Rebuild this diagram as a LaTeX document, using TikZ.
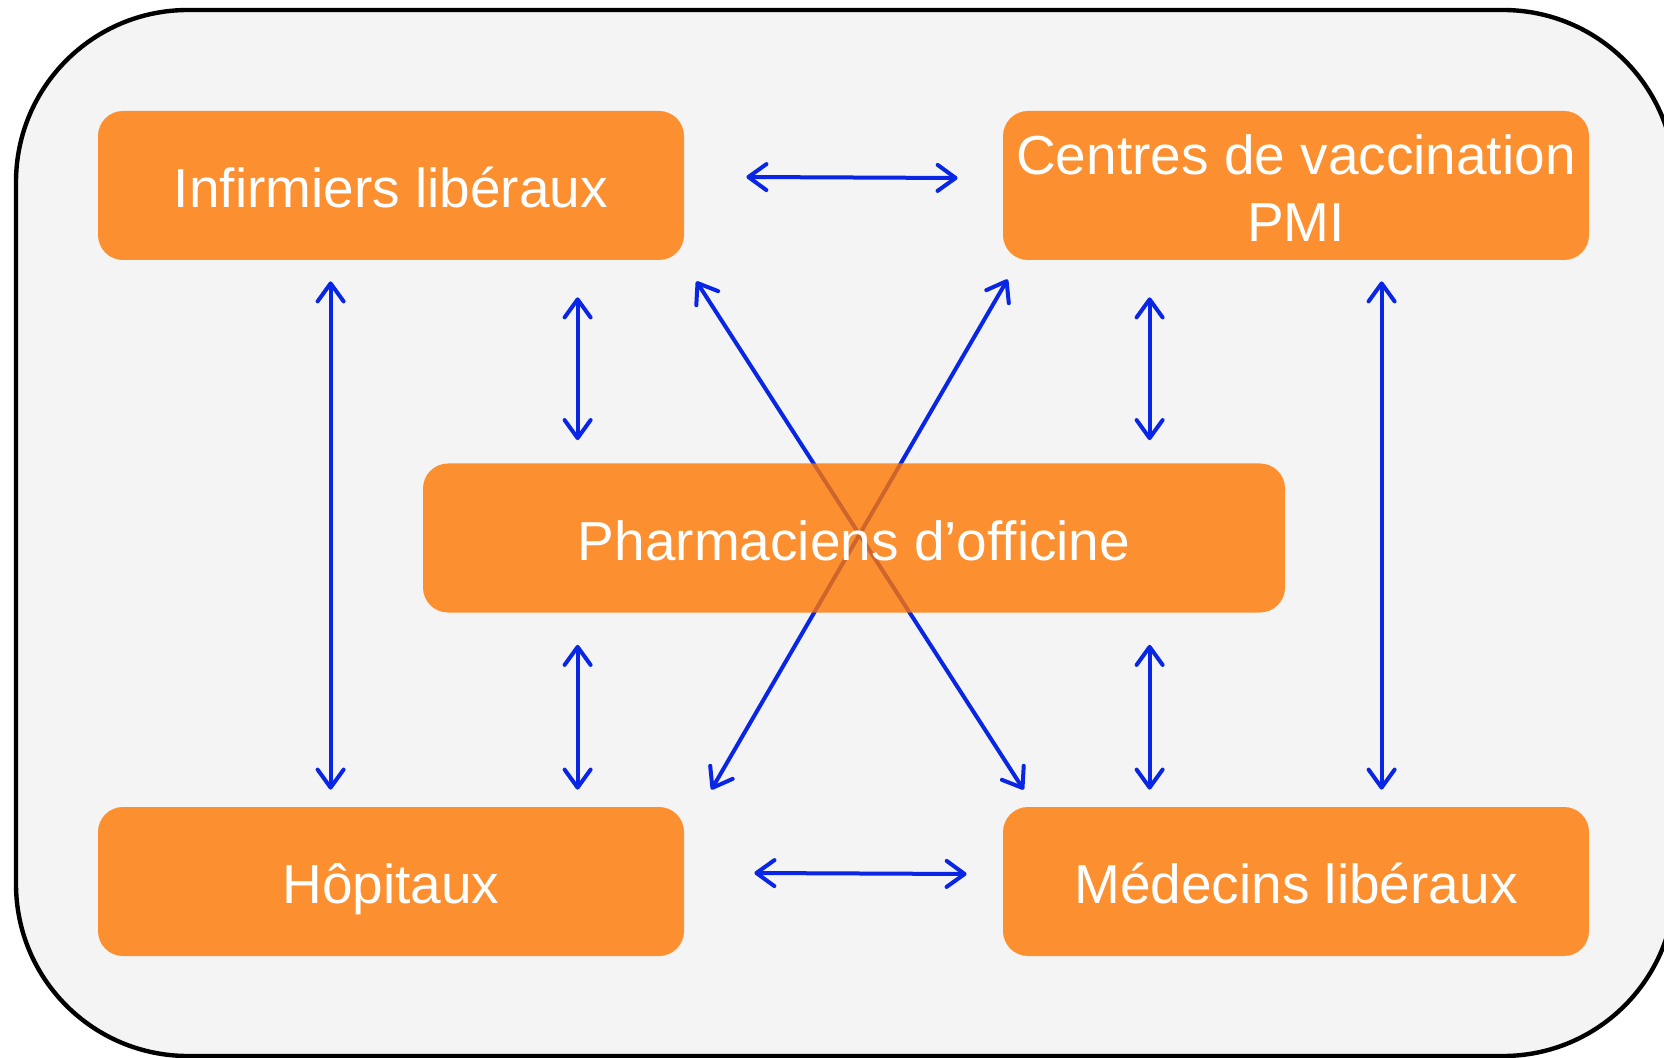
\documentclass[tikz,border=0pt]{standalone}
\usepackage{fontspec}
\setmainfont{Liberation Sans}
\usepackage{tikz}
\usetikzlibrary{calc,positioning,arrows.meta,backgrounds}
\definecolor{boxorange}{RGB}{255,118,0}
\definecolor{linkblue}{RGB}{8,38,228}
\definecolor{panelgray}{RGB}{244,244,244}
\tikzset{
  box/.style={rectangle, rounded corners=12.5pt, fill=boxorange, fill opacity=.8, text opacity=1, text=white, minimum width=293pt, minimum height=74.5pt, align=center, inner sep=0pt, text height=22pt, text depth=0pt, font=\fontsize{27.5}{33.5}\selectfont},
  link/.style={draw=linkblue, line width=2pt, {Straight Barb[length=9pt,width=13pt,round]}-{Straight Barb[length=9pt,width=13pt,round]}},
  panel/.style={draw=black, line width=2.2pt, fill=panelgray, rounded corners=86pt}
}

\begin{document}
\begin{tikzpicture}[x=0.5pt, y=-0.5pt]
    \useasboundingbox (0,0) rectangle (1664,1058);
    \node[box] (inf) at (391,185.5) {Infirmiers libéraux};
    \node[box, text height=56pt] (vac) at (1296,185.5) {Centres de vaccination\\PMI};
    \node[box, minimum width=431pt] (pharma) at (854,538) {Pharmaciens d’officine};
    \node[box] (hop) at (391,881.5) {Hôpitaux};
    \node[box] (med) at (1296,881.5) {Médecins libéraux};

    \begin{scope}[on background layer]
        \clip (0,0) rectangle (1664,1058);
        \draw[panel] (16,10) rectangle (1675,1056);
        % horizontal links
        \draw[link] ($(inf.east)+(62,-8.5)$) -- ($(vac.west)+(-45,-7.5)$);
        \draw[link] ($(hop.east)+(70,-8.5)$) -- ($(med.west)+(-36,-7.5)$);
        % outer vertical links
        \draw[link] ($(inf.south west)+(233,21)$) -- ($(hop.north west)+(233,-17)$);
        \draw[link] ($(vac.south west)+(379,21)$) -- ($(med.north west)+(379,-17)$);
        % links to the pharmacy
        \draw[link] ($(inf.south west)+(480,37)$) -- ($(pharma.north west)+(155,-23)$);
        \draw[link] ($(vac.south west)+(147,37)$) -- ($(pharma.north west)+(727,-23)$);
        \draw[link] ($(pharma.south west)+(155,32)$) -- ($(hop.north west)+(480,-17)$);
        \draw[link] ($(pharma.south west)+(727,32)$) -- ($(med.north west)+(147,-17)$);
        % diagonals
        \draw[link] ($(inf.south east)+(12,21)$) -- ($(med.north west)+(21,-17)$);
        \draw[link] ($(vac.south west)+(5,19)$) -- ($(hop.north east)+(27,-17)$);
    \end{scope}
\end{tikzpicture}
\end{document}
